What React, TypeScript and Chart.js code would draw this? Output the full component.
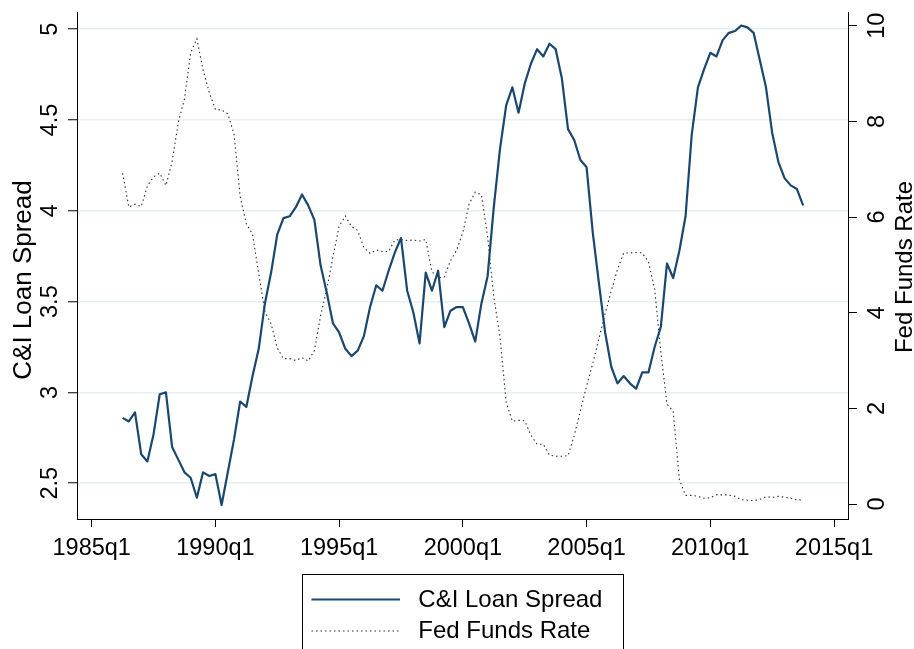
import React, { useEffect, useRef } from "react";
import { Chart, registerables } from "chart.js";

Chart.register(...registerables);

// ---------- data ----------
const START_YEAR = 1986;
const START_QUARTER = 2; // 1986q2
const BASE_YEAR = 1985; // quarter index 0 = 1985q1

const spreadValues = [
  2.86, 2.84, 2.89,
  2.66, 2.62, 2.77, 2.99,
  3.0, 2.7, 2.63, 2.56,
  2.53, 2.42, 2.56, 2.54,
  2.55, 2.38, 2.56, 2.74,
  2.95, 2.92, 3.09, 3.24,
  3.49, 3.66, 3.87, 3.96,
  3.97, 4.02, 4.09, 4.03,
  3.95, 3.7, 3.55, 3.38,
  3.33, 3.24, 3.2, 3.23,
  3.31, 3.47, 3.59, 3.56,
  3.67, 3.77, 3.85, 3.56,
  3.44, 3.27, 3.66, 3.56,
  3.67, 3.36, 3.45, 3.47,
  3.47, 3.38, 3.28, 3.49,
  3.64, 4.02, 4.34, 4.58,
  4.68, 4.54, 4.7, 4.81,
  4.89, 4.85, 4.92, 4.89,
  4.73, 4.45, 4.39, 4.28,
  4.24, 3.88, 3.6, 3.33,
  3.14, 3.05, 3.09, 3.05,
  3.02, 3.11, 3.11, 3.25,
  3.36, 3.71, 3.63, 3.78,
  3.97, 4.42, 4.68, 4.78,
  4.87, 4.85, 4.94, 4.98,
  4.99, 5.02, 5.01, 4.98,
  4.83, 4.68, 4.43, 4.27,
  4.18, 4.14, 4.12, 4.03,
];

const fedFundsValues = [
  6.92, 6.21, 6.27,
  6.22, 6.65, 6.84, 6.92,
  6.66, 7.16, 7.98, 8.47,
  9.44, 9.73, 9.08, 8.61,
  8.25, 8.24, 8.16, 7.74,
  6.43, 5.86, 5.64, 4.82,
  4.02, 3.77, 3.26, 3.04,
  3.04, 3.0, 3.06, 2.99,
  3.21, 3.94, 4.49, 5.17,
  5.81, 6.02, 5.8, 5.72,
  5.36, 5.24, 5.31, 5.28,
  5.28, 5.52, 5.53, 5.51,
  5.52, 5.5, 5.53, 4.86,
  4.73, 4.75, 5.09, 5.31,
  5.68, 6.27, 6.52, 6.47,
  5.59, 4.33, 3.5, 2.13,
  1.73, 1.75, 1.74, 1.44,
  1.25, 1.25, 1.02, 1.0,
  1.0, 1.01, 1.43, 1.95,
  2.47, 2.94, 3.46, 3.98,
  4.46, 4.91, 5.25, 5.25,
  5.26, 5.25, 5.07, 4.5,
  3.18, 2.09, 1.94, 0.51,
  0.18, 0.18, 0.16, 0.12,
  0.13, 0.19, 0.19, 0.19,
  0.16, 0.09, 0.08, 0.07,
  0.1, 0.15, 0.14, 0.16,
  0.14, 0.12, 0.08, 0.09,
];

const xTickYears = [1985, 1990, 1995, 2000, 2005, 2010, 2015];
const leftTicks = [2.5, 3, 3.5, 4, 4.5, 5];
const rightTicks = [0, 2, 4, 6, 8, 10];

const quarterLabels = spreadValues.map((_, i) => {
  const qi = START_QUARTER - 1 + i;
  return `${START_YEAR + Math.floor(qi / 4)}q${(qi % 4) + 1}`;
});

const SPREAD_LABEL = "C&I Loan Spread";
const FFR_LABEL = "Fed Funds Rate";

// ---------- helpers ----------
function quarterIndex(label: string): number {
  const [y, q] = label.split("q");
  return (Number(y) - BASE_YEAR) * 4 + Number(q) - 1;
}

const NAVY = "#1a476f";
const DOT = "#2e2e2e";
const GRID = "#e6eef1";
const font = (s: number) => `${s}px "Liberation Sans", Arial, Helvetica, sans-serif`;

const decorPlugin = {
  id: "stataDecor",
  afterDraw(chart: any) {
    const ctx: CanvasRenderingContext2D = chart.ctx;
    const xs = chart.scales.x;
    const yl = chart.scales.yL;
    const yr = chart.scales.yR;
    ctx.save();
    ctx.fillStyle = "#000";

    // x tick labels
    ctx.font = font(23.5);
    ctx.textAlign = "center";
    ctx.textBaseline = "alphabetic";
    xTickYears.forEach((yr0) => {
      ctx.fillText(`${yr0}q1`, xs.getPixelForValue((yr0 - BASE_YEAR) * 4), 555);
    });

    const rot = (text: string, cx: number, cy: number, size: number) => {
      ctx.save();
      ctx.translate(cx, cy);
      ctx.rotate(-Math.PI / 2);
      ctx.font = font(size);
      ctx.textAlign = "center";
      ctx.textBaseline = "alphabetic";
      ctx.fillText(text, 0, 0.358 * size);
      ctx.restore();
    };
    leftTicks.forEach((v) => rot(String(v), 48.5, yl.getPixelForValue(v), 23.5));
    rightTicks.forEach((v) => rot(String(v), 876, yr.getPixelForValue(v), 23.5));
    rot(SPREAD_LABEL, 22, 280, 26);
    rot(FFR_LABEL, 903, 267, 24);

    // legend
    ctx.strokeStyle = "#000";
    ctx.lineWidth = 1;
    ctx.strokeRect(302.5, 574.5, 321, 120);

    ctx.beginPath();
    ctx.strokeStyle = NAVY;
    ctx.lineWidth = 2;
    ctx.moveTo(311.5, 599.5);
    ctx.lineTo(400, 599.5);
    ctx.stroke();

    ctx.beginPath();
    ctx.setLineDash([1.5, 3]);
    ctx.strokeStyle = DOT;
    ctx.lineWidth = 1;
    ctx.moveTo(311.5, 631);
    ctx.lineTo(400, 631);
    ctx.stroke();
    ctx.setLineDash([]);

    ctx.fillStyle = "#000";
    ctx.font = font(24);
    ctx.textAlign = "left";
    ctx.fillText(SPREAD_LABEL, 418.3, 607.3);
    ctx.fillText(FFR_LABEL, 418.3, 638.3);
    ctx.restore();
  },
};

export default function App() {
  const ref = useRef<HTMLCanvasElement | null>(null);

  useEffect(() => {
    if (!ref.current) return;
    const chart = new Chart(ref.current, {
      type: "line",
      data: {
        datasets: [
          {
            label: SPREAD_LABEL,
            data: quarterLabels.map((l, i) => ({ x: quarterIndex(l), y: spreadValues[i] })),
            yAxisID: "yL",
            borderColor: NAVY,
            borderWidth: 2.2,
            pointRadius: 0,
            tension: 0,
            borderJoinStyle: "round",
            fill: false,
          },
          {
            label: FFR_LABEL,
            data: quarterLabels.map((l, i) => ({ x: quarterIndex(l), y: fedFundsValues[i] })),
            yAxisID: "yR",
            borderColor: DOT,
            borderWidth: 1.1,
            borderDash: [1.5, 3],
            pointRadius: 0,
            tension: 0,
            fill: false,
          },
        ],
      },
      options: {
        responsive: false,
        animation: false,
        events: [],
        layout: { padding: { top: 12, left: 0, right: 0, bottom: 0 } },
        plugins: { legend: { display: false }, tooltip: { enabled: false } },
        scales: {
          x: {
            type: "linear",
            position: "bottom",
            min: -2.376,
            max: 122.26,
            afterBuildTicks: (s: any) => {
              s.ticks = xTickYears.map((y) => ({ value: (y - BASE_YEAR) * 4 }));
            },
            afterFit: (s: any) => {
              s.height = 130;
            },
            ticks: { display: false },
            grid: { drawOnChartArea: false, tickLength: 8, tickColor: "#000", tickWidth: 1 },
            border: { color: "#000", width: 1 },
          },
          yL: {
            type: "linear",
            position: "left",
            min: 2.303,
            max: 5.0947,
            afterBuildTicks: (s: any) => {
              s.ticks = leftTicks.map((v) => ({ value: v }));
            },
            afterFit: (s: any) => {
              s.width = 77;
            },
            ticks: { display: false },
            grid: { color: GRID, lineWidth: 1.5, tickLength: 9, tickColor: "#000", tickWidth: 1 },
            border: { color: "#000", width: 1 },
          },
          yR: {
            type: "linear",
            position: "right",
            min: -0.3136,
            max: 10.2886,
            afterBuildTicks: (s: any) => {
              s.ticks = rightTicks.map((v) => ({ value: v }));
            },
            afterFit: (s: any) => {
              s.width = 66;
            },
            ticks: { display: false },
            grid: { drawOnChartArea: false, tickLength: 9, tickColor: "#000", tickWidth: 1 },
            border: { color: "#000", width: 1 },
          },
        },
      },
      plugins: [decorPlugin],
    } as any);
    return () => chart.destroy();
  }, []);

  return (
    <div style={{ position: "absolute", left: 0, top: 0, width: 914, height: 649, background: "#fff" }}>
      <canvas ref={ref} width={914} height={649} style={{ width: 914, height: 649, display: "block" }} />
    </div>
  );
}
